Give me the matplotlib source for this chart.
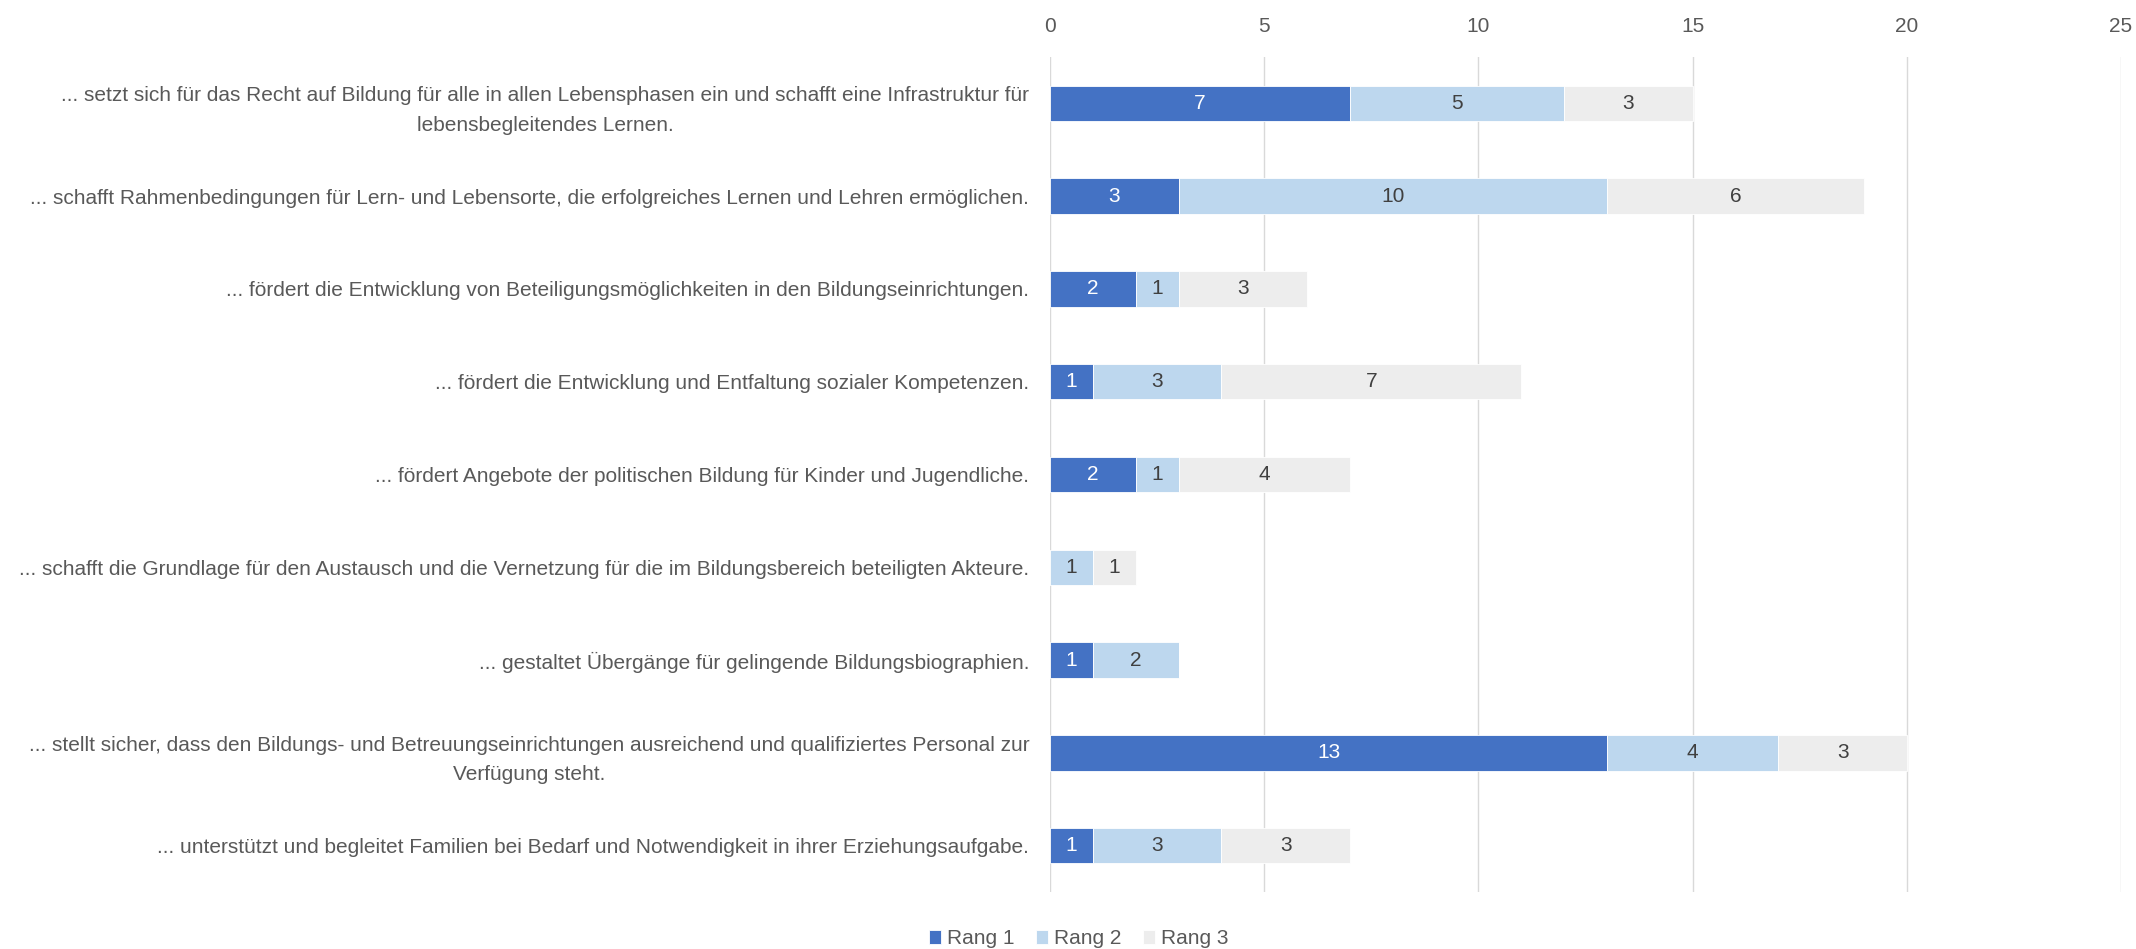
import numpy as np
import matplotlib as mpl
mpl.use('Agg')
import matplotlib.pyplot as plt

# categories top to bottom
cats = [
    "... setzt sich für das Recht auf Bildung für alle in allen Lebensphasen ein und schafft eine Infrastruktur für\nlebensbegleitendes Lernen.",
    "... schafft Rahmenbedingungen für Lern- und Lebensorte, die erfolgreiches Lernen und Lehren ermöglichen.",
    "... fördert die Entwicklung von Beteiligungsmöglichkeiten in den Bildungseinrichtungen.",
    "... fördert die Entwicklung und Entfaltung sozialer Kompetenzen.",
    "... fördert Angebote der politischen Bildung für Kinder und Jugendliche.",
    "... schafft die Grundlage für den Austausch und die Vernetzung für die im Bildungsbereich beteiligten Akteure.",
    "... gestaltet Übergänge für gelingende Bildungsbiographien.",
    "... stellt sicher, dass den Bildungs- und Betreuungseinrichtungen ausreichend und qualifiziertes Personal zur\nVerfügung steht.",
    "... unterstützt und begleitet Familien bei Bedarf und Notwendigkeit in ihrer Erziehungsaufgabe.",
]
rang1 = [7, 3, 2, 1, 2, 0, 1, 13, 1]
rang2 = [5, 10, 1, 3, 1, 1, 2, 4, 3]
rang3 = [3, 6, 3, 7, 4, 1, 0, 3, 3]
series_names = ["Rang 1", "Rang 2", "Rang 3"]
colors = ["#4472C4", "#BDD7EE", "#EDEDED"]
txt_colors = ["white", "#404040", "#404040"]

plt.rcParams['font.family'] = ['Liberation Sans', 'DejaVu Sans']
fsize = 15
grey = "#595959"

fig = plt.figure(figsize=(21.36, 9.49), dpi=100)
ax = fig.add_axes([0.4916, 0.06, 0.5014, 0.88])

y = np.arange(len(cats))
left = np.zeros(len(cats))
for vals, name, col, tc in zip([rang1, rang2, rang3], series_names, colors, txt_colors):
    vals = np.array(vals, dtype=float)
    bars = ax.barh(y, vals, left=left, height=0.38, color=col, label=name,
                   edgecolor='white', linewidth=0.6, zorder=3)
    for b, v in zip(bars, vals):
        if v > 0:
            ax.text(b.get_x() + b.get_width() / 2, b.get_y() + b.get_height() / 2,
                    str(int(v)), ha='center', va='center', color=tc, fontsize=fsize, zorder=4)
    left += vals

ax.set_xlim(0, 25)
ax.set_ylim(len(cats) - 0.5, -0.5)
ax.set_xticks(np.arange(0, 26, 5))
ax.xaxis.tick_top()
ax.tick_params(axis='x', length=0, pad=15, labelsize=fsize, labelcolor=grey)
ax.set_yticks(y)
ax.set_yticklabels(cats, fontsize=fsize, color=grey)
for lab in ax.get_yticklabels():
    lab.set_multialignment('center')
    lab.set_linespacing(1.7)
ax.tick_params(axis='y', length=0, pad=15)
ax.grid(axis='x', color='#d9d9d9', linewidth=1, zorder=0)
for s in ax.spines.values():
    s.set_visible(False)

fig.legend(loc='lower center', bbox_to_anchor=(0.505, -0.019), ncol=3, frameon=False,
           fontsize=fsize, handlelength=0.6, handleheight=0.6, columnspacing=1.0,
           handletextpad=0.3, labelcolor=grey)

fig.savefig('out.png', dpi=100)
